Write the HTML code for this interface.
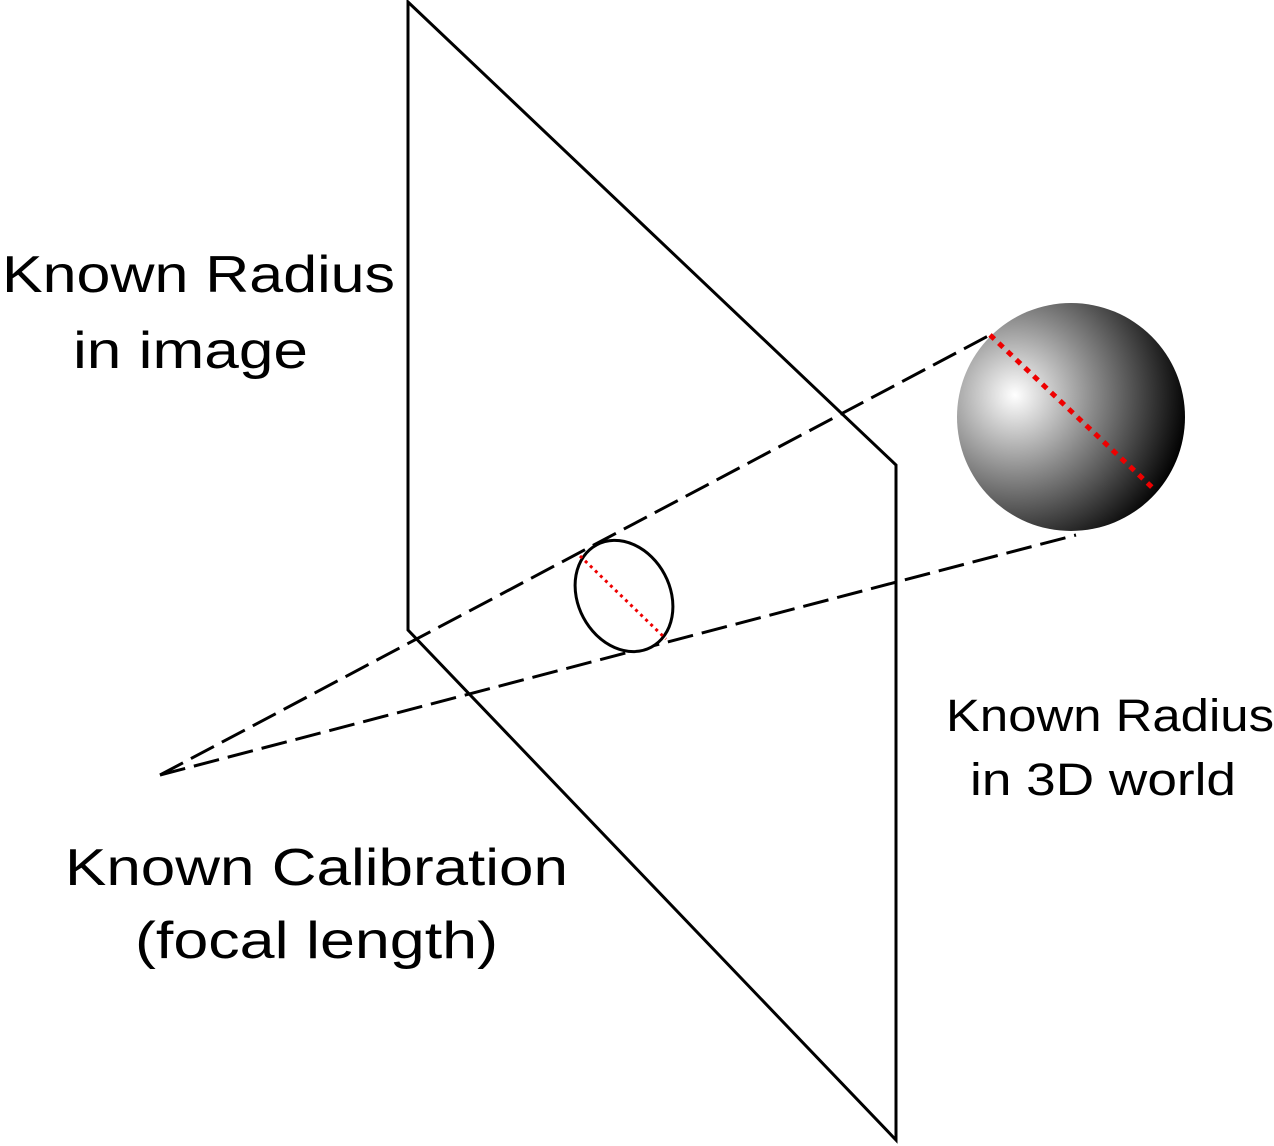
<!DOCTYPE html>
<html>
<head>
<meta charset="utf-8">
<style>
  html,body{margin:0;padding:0;background:#fff;}
  svg{display:block;}
  text{font-family:"Liberation Sans","DejaVu Sans",sans-serif;fill:#000;}
</style>
</head>
<body>
<svg width="1274" height="1146" viewBox="0 0 1274 1146">
  <defs>
    <radialGradient id="sphereGrad" cx="1015" cy="395" r="175" gradientUnits="userSpaceOnUse">
      <stop offset="0" stop-color="#ffffff"/>
      <stop offset="0.45" stop-color="#8a8a8a"/>
      <stop offset="1" stop-color="#000000"/>
    </radialGradient>
  </defs>

  <g fill="none" stroke="#000" stroke-width="3">
    <polygon points="408,2 896,465 896,1140 408,630"/>
  </g>

  <g stroke="#000" stroke-width="3" stroke-dasharray="26,9" fill="none">
    <line x1="160" y1="775" x2="990" y2="335"/>
    <line x1="160" y1="775" x2="1076" y2="535"/>
  </g>

  <g>
    <ellipse cx="624" cy="596" rx="46" ry="58" transform="rotate(-28 624 596)" fill="#fff" stroke="#000" stroke-width="3"/>
    <line x1="580" y1="556" x2="666" y2="639" stroke="#e00" stroke-width="3" stroke-dasharray="3,4"/>
  </g>

  <g>
    <circle cx="1071" cy="417" r="114" fill="url(#sphereGrad)"/>
    <line x1="990" y1="335" x2="1156" y2="491" stroke="#e00" stroke-width="5" stroke-dasharray="6,6"/>
  </g>

  <text x="2" y="292" font-size="52" textLength="393" lengthAdjust="spacingAndGlyphs">Known Radius</text>
  <text x="73" y="368" font-size="52" textLength="235" lengthAdjust="spacingAndGlyphs">in image</text>
  <text x="65" y="885" font-size="52" textLength="503" lengthAdjust="spacingAndGlyphs">Known Calibration</text>
  <text x="135" y="958" font-size="52" textLength="363" lengthAdjust="spacingAndGlyphs">(focal length)</text>
  <text x="946" y="731" font-size="45" textLength="328" lengthAdjust="spacingAndGlyphs">Known Radius</text>
  <text x="970" y="795" font-size="45" textLength="266" lengthAdjust="spacingAndGlyphs">in 3D world</text>
</svg>
</body>
</html>
